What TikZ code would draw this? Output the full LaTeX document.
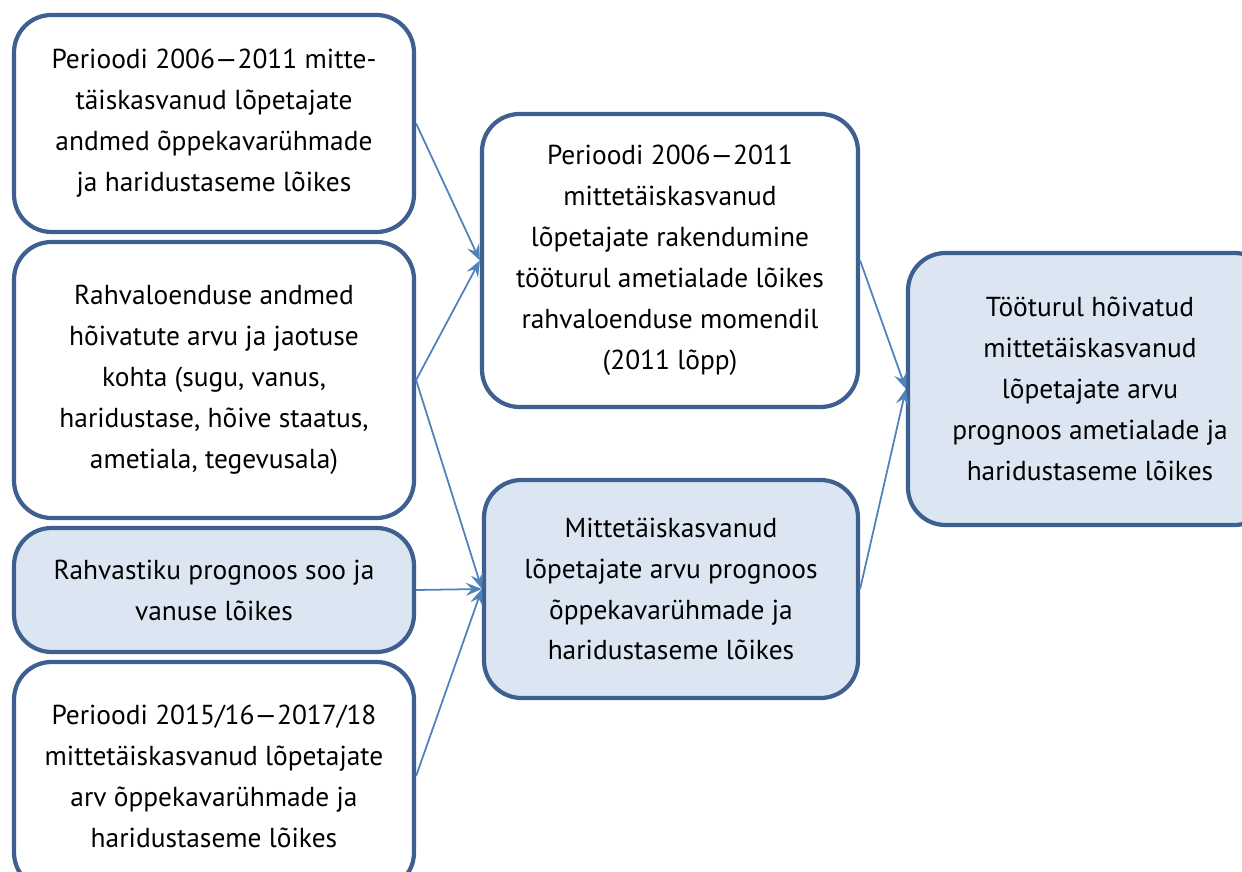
\documentclass[tikz,border=0pt]{standalone}
\usepackage{fontspec}
\setmainfont{PT Sans}
\usepackage{xcolor}
\usetikzlibrary{arrows.meta}
\definecolor{boxline}{HTML}{3D6090}
\definecolor{boxfill}{HTML}{DCE6F2}
\definecolor{arrowline}{HTML}{4F81BD}
\tikzset{
    flow box/.style={
        draw=boxline,
        line width=2.4pt,
        rounded corners=0.75cm,
        align=center,
        inner sep=0pt,
        font=\fontsize{15.6}{23.3}\selectfont
    },
    filled box/.style={
        flow box,
        fill=boxfill
    },
    flow arrow/.style={
        draw=arrowline,
        line width=1pt,
        -{Stealth[length=0.32cm,width=0.26cm,inset=0.12cm]}
    }
}

\begin{document}
\begin{tikzpicture}
            \useasboundingbox (0,0) rectangle (24.84,-17.44);
            \begin{scope}
            \clip (0,0) rectangle (24.84,-17.44);
            % left column: input data
            \node[flow box, minimum width=8cm, minimum height=4.34cm] (A) at (4.28,-2.47)
              {Perioodi 2006—2011 mitte-\\täiskasvanud lõpetajate\\andmed õppekavarühmade\\ja haridustaseme lõikes};
            \node[flow box, minimum width=8cm, minimum height=5.52cm] (B) at (4.28,-7.6)
              {Rahvaloenduse andmed\\hõivatute arvu ja jaotuse\\kohta (sugu, vanus,\\haridustase, hõive staatus,\\ametiala, tegevusala)};
            \node[filled box, minimum width=8cm, minimum height=2.48cm] (C) at (4.28,-11.8)
              {Rahvastiku prognoos soo ja\\vanuse lõikes};
            \node[flow box, minimum width=8cm, minimum height=4.56cm] (D) at (4.28,-15.52)
              {Perioodi 2015/16—2017/18\\mittetäiskasvanud lõpetajate\\arv õppekavarühmade ja\\haridustaseme lõikes};
            % middle column
            \node[flow box, minimum width=7.52cm, minimum height=5.86cm] (E) at (13.4,-5.21)
              {Perioodi 2006—2011\\mittetäiskasvanud\\lõpetajate rakendumine\\tööturul ametialade lõikes\\rahvaloenduse momendil\\(2011 lõpp)};
            \node[filled box, minimum width=7.48cm, minimum height=4.36cm] (F) at (13.42,-11.78)
              {Mittetäiskasvanud\\lõpetajate arvu prognoos\\õppekavarühmade ja\\haridustaseme lõikes};
            % result
            \node[filled box, minimum width=7.28cm, minimum height=5.44cm] (G) at (21.8,-7.78)
              {Tööturul hõivatud\\mittetäiskasvanud\\lõpetajate arvu\\prognoos ametialade ja\\haridustaseme lõikes};
            \foreach \s/\t in {A/E,B/E,B/F,C/F,D/F,E/G,F/G}
              \draw[flow arrow] (\s.east) -- (\t.west);
            \end{scope}
          \end{tikzpicture}
\end{document}
